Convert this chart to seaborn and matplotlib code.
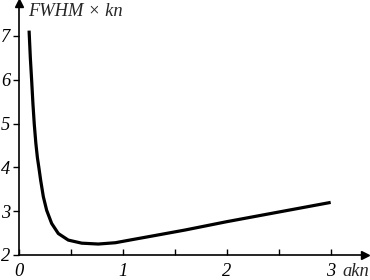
import matplotlib
matplotlib.use("Agg")
import matplotlib.pyplot as plt
import seaborn as sns
import pandas as pd

# data
akn = [0.100, 0.112, 0.125, 0.137, 0.150, 0.165, 0.180, 0.195, 0.211, 0.237, 0.269,
       0.317, 0.381, 0.477, 0.606, 0.765, 0.93, 1.09, 1.30, 1.60, 2.00, 2.50, 3.00]
fwhm_kn = [7.12, 6.50, 5.97, 5.45, 4.98, 4.55, 4.22, 3.98, 3.71, 3.33, 3.02,
           2.72, 2.49, 2.34, 2.27, 2.25, 2.28, 2.35, 2.44, 2.57, 2.76, 2.98, 3.20]
x_ticks = [0, 1, 2, 3]
x_minor = [0.5, 1.5, 2.5]
y_ticks = [2, 3, 4, 5, 6, 7]

sns.set_style("ticks")
plt.rcParams['font.family'] = ['Liberation Serif', 'DejaVu Serif']

df = pd.DataFrame({"akn": akn, "fwhm": fwhm_kn})

fig = plt.figure(figsize=(3.7, 2.8), dpi=100)
ax = fig.add_axes([0.0505, 0.0893, 0.936, 0.90])
sns.lineplot(data=df, x="akn", y="fwhm", ax=ax, color="black", linewidth=2.3,
             sort=False, solid_joinstyle="round", solid_capstyle="butt")

ax.set_xlim(0, 3.33)
ax.set_ylim(2, 7.75)
ax.set_xlabel("")
ax.set_ylabel("")
for s in ["top", "right"]:
    ax.spines[s].set_visible(False)
for s in ["left", "bottom"]:
    ax.spines[s].set_linewidth(1.2)
    ax.spines[s].set_color("black")

fs = 13.3
ax.set_xticks(x_ticks)
ax.set_xticks(x_minor, minor=True)
ax.set_yticks(y_ticks)
ax.set_xticklabels([str(v) for v in x_ticks], fontstyle="italic", fontsize=fs)
ax.set_yticklabels([str(v) for v in y_ticks], fontstyle="italic", fontsize=fs)
ax.tick_params(axis="x", which="both", direction="in", length=4, width=1, pad=6, colors="black")
ax.tick_params(axis="y", direction="out", length=4, width=1, pad=2, colors="black")

# arrows at axis ends
ax.plot(1, 0, ">k", markersize=6, transform=ax.transAxes, clip_on=False)
ax.plot(0, 1, "^k", markersize=6, transform=ax.transAxes, clip_on=False)

fig.text(28 / 370, 1 - 12 / 280, "FWHM × kn", fontstyle="italic", fontsize=fs, va="center", ha="left")
fig.text(342 / 370, 1 - 272 / 280, "akn", fontstyle="italic", fontsize=fs, va="center", ha="left")

fig.savefig("out.png", dpi=100)
